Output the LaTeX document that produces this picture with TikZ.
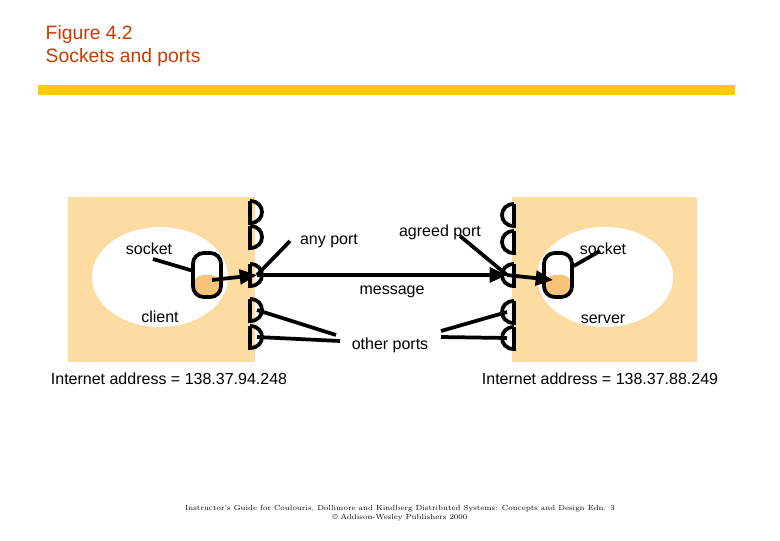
\documentclass[tikz,border=0pt]{standalone}
\usepackage{fontspec}
\setmainfont{Liberation Sans}
\usetikzlibrary{arrows.meta,positioning,shapes}
\definecolor{host}{HTML}{FDDCA2}
\definecolor{sockfill}{HTML}{F7C27A}
\definecolor{bar}{HTML}{FFCC00}
\definecolor{titlec}{HTML}{C83C00}
\tikzset{%
lbl/.style={font=\fontsize{12}{14}\selectfont, inner sep=1pt},
port/.style={line width=2.8pt},
sock/.style={draw, line width=2.8pt, rounded corners=8pt, minimum width=21, minimum height=33, inner sep=0pt,
  path picture={\fill[sockfill] (path picture bounding box.west) rectangle (path picture bounding box.south east);}},
pt/.style={line width=2.8pt, -{Triangle[length=13pt,width=11pt]}, shorten >=0pt},
wire/.style={line width=2.8pt}
}
\begin{document}
\begin{tikzpicture}[x=0.75pt,y=-0.75pt]
	\useasboundingbox (0,0) rectangle (780,540);
	% heading
	\node[anchor=west, text=titlec, font=\fontsize{14.5}{16}\selectfont] (fig) at (41,34) {Figure 4.2};
	\node[anchor=west, text=titlec, font=\fontsize{14.5}{16}\selectfont] (title) at (41,57) {Sockets and ports};
	\fill[bar] (38,85) rectangle (735,95);
	% hosts
	\fill[host] (68,197) rectangle (255,362);
	\fill[host] (512,197) rectangle (697,362);
	\fill[white] (160,277) ellipse [x radius=68, y radius=50];
	\fill[white] (605,277) ellipse [x radius=68, y radius=50];
	% ports
	\foreach \y [count=\i] in {212,237,275,310,337}{
		\coordinate (pl\i) at (257,\y);
		\draw[port] (250,\y-11) -- (250,\y+11) .. controls (266,\y+11) and (266,\y-11) .. (250,\y-11);
	}
	\foreach \y [count=\i] in {215,242,275,312,338}{
		\coordinate (pr\i) at (507,\y);
		\draw[port] (514,\y-11) -- (514,\y+11) .. controls (498,\y+11) and (498,\y-11) .. (514,\y-11);
	}
	% sockets
	\node[sock] (sl) at (207,275) {};
	\node[sock] (sr) at (558,275) {};
	% labels
	\node[lbl] (socl) at (149,249) {socket};
	\node[lbl] (client) at (160,317) {client};
	\node[lbl] (anyp) at (329,241) {any port};
	\node[lbl] (agreed) at (440,232) {agreed port};
	\node[lbl] (msg) at (392,292) {message};
	\node[lbl] (other) at (390,345) {other ports};
	\node[lbl] (socr) at (603,249) {socket};
	\node[lbl] (server) at (603,319) {server};
	\node[lbl] (addrl) at (169,379) {Internet address = 138.37.94.248};
	\node[lbl] (addrr) at (600,379) {Internet address = 138.37.88.249};
	\coordinate (al) at (153,259);
	\coordinate (aa) at (290,241);
	\coordinate (ag) at (460,236);
	\coordinate (ar) at (600,251);
	\coordinate (ol1) at (336,335);
	\coordinate (ol2) at (340,341);
	\coordinate (or1) at (441,331);
	\coordinate (or2) at (441,337);
	% connectors
	\draw[wire] (al) -- (sl);
	\draw[pt] (212,280) -- (pl3);
	\draw[wire] (aa) -- (pl3);
	\draw[pt] (pl3) -- (pr3);
	\draw[wire] (ag) -- (pr3);
	\draw[pt] (pr3) -- (553,280);
	\draw[wire] (sr) -- (ar);
	\draw[wire] (pl4) -- (ol1);
	\draw[wire] (pl5) -- (ol2);
	\draw[wire] (pr4) -- (or1);
	\draw[wire] (pr5) -- (or2);
	% footer
	\node[font=\fontfamily{lmr}\fontsize{5.5}{6.5}\selectfont, align=center] (foot) at (400,513)
		{Instructor's Guide for Coulouris, Dollimore and Kindberg Distributed Systems: Concepts and Design Edn. 3\\ \textcopyright{} Addison-Wesley Publishers 2000};
\end{tikzpicture}
\end{document}
